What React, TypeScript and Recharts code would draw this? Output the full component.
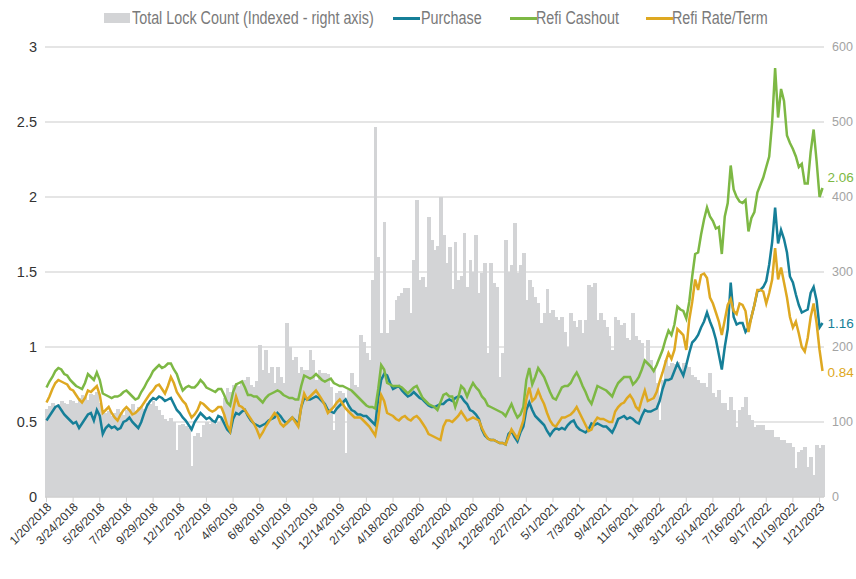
import React from "react";
import {
  ComposedChart,
  Bar,
  Line,
  XAxis,
  YAxis,
  CartesianGrid,
  Legend,
} from "recharts";

// weekly lock data, 1/20/2018 .. 1/28/2023
const START_DATE = new Date(2018, 0, 20);
const WEEKS = 263;

const TICK_LABELS = [
  "1/20/2018", "3/24/2018", "5/26/2018", "7/28/2018", "9/29/2018", "12/1/2018",
  "2/2/2019", "4/6/2019", "6/8/2019", "8/10/2019", "10/12/2019", "12/14/2019",
  "2/15/2020", "4/18/2020", "6/20/2020", "8/22/2020", "10/24/2020", "12/26/2020",
  "2/27/2021", "5/1/2021", "7/3/2021", "9/4/2021", "11/6/2021", "1/8/2022",
  "3/12/2022", "5/14/2022", "7/16/2022", "9/17/2022", "11/19/2022", "1/21/2023",
];

const LEFT_TICKS = [0, 0.5, 1, 1.5, 2, 2.5, 3];
const RIGHT_TICKS = [0, 100, 200, 300, 400, 500, 600];

// Total Lock Count (indexed, right axis)
const lockCount = [
  118, 122, 125, 120, 124, 128, 126, 124, 130, 128, 126, 132, 136, 134, 130, 138, 136, 140, 126, 116,
  112, 115, 108, 112, 118, 114, 110, 116, 118, 124, 115, 120, 122, 118, 126, 124, 128, 122, 116, 110,
  104, 102, 106, 100, 63, 96, 98, 95, 92, 42, 82, 86, 80, 96, 100, 98, 102, 98, 100, 104,
  132, 145, 140, 150, 152, 148, 155, 156, 160, 150, 147, 155, 203, 169, 196, 165, 173, 152, 173, 160,
  152, 232, 200, 183, 187, 165, 173, 170, 169, 196, 183, 156, 169, 165, 166, 164, 147, 89, 139, 142,
  139, 59, 143, 165, 149, 147, 216, 207, 192, 183, 289, 493, 320, 219, 367, 219, 236, 236, 263, 268,
  272, 279, 279, 245, 316, 396, 289, 293, 280, 373, 343, 329, 335, 400, 350, 312, 333, 278, 340, 290,
  295, 352, 280, 316, 300, 349, 272, 299, 312, 192, 312, 285, 280, 160, 192, 343, 300, 310, 365, 299,
  310, 325, 263, 290, 280, 267, 259, 232, 245, 278, 245, 250, 240, 236, 240, 220, 200, 245, 235, 227,
  236, 219, 236, 283, 280, 285, 236, 245, 236, 227, 215, 196, 240, 236, 230, 232, 212, 209, 245, 215,
  209, 205, 179, 209, 183, 169, 152, 103, 156, 183, 175, 179, 178, 180, 169, 179, 175, 173, 163, 160,
  156, 152, 152, 147, 165, 139, 133, 143, 125, 125, 116, 133, 116, 93, 116, 120, 133, 110, 103, 93,
  96, 96, 96, 89, 90, 89, 80, 80, 76, 76, 72, 72, 67, 39, 60, 63, 67, 40, 53, 29,
  69, 65, 70,
];

const purchase = [
  0.51, 0.54, 0.57, 0.60, 0.61, 0.58, 0.55, 0.53, 0.51, 0.49, 0.50, 0.46, 0.49, 0.52, 0.55, 0.56, 0.51, 0.58, 0.54, 0.42,
  0.46, 0.48, 0.46, 0.47, 0.45, 0.46, 0.50, 0.51, 0.53, 0.50, 0.48, 0.46, 0.50, 0.56, 0.61, 0.64, 0.66, 0.65, 0.67, 0.66,
  0.64, 0.65, 0.66, 0.62, 0.58, 0.56, 0.53, 0.51, 0.48, 0.45, 0.50, 0.53, 0.56, 0.54, 0.52, 0.53, 0.51, 0.50, 0.54, 0.53,
  0.49, 0.45, 0.43, 0.52, 0.56, 0.55, 0.57, 0.58, 0.54, 0.51, 0.49, 0.48, 0.47, 0.48, 0.49, 0.51, 0.52, 0.53, 0.56, 0.54,
  0.51, 0.49, 0.51, 0.53, 0.51, 0.48, 0.60, 0.66, 0.65, 0.65, 0.66, 0.67, 0.66, 0.64, 0.62, 0.58, 0.57, 0.56, 0.59, 0.61,
  0.63, 0.65, 0.61, 0.58, 0.57, 0.55, 0.55, 0.54, 0.54, 0.52, 0.50, 0.48, 0.66, 0.78, 0.82, 0.81, 0.76, 0.72, 0.73, 0.74,
  0.71, 0.69, 0.67, 0.68, 0.70, 0.68, 0.66, 0.65, 0.63, 0.61, 0.60, 0.60, 0.61, 0.62, 0.62, 0.64, 0.65, 0.64, 0.66, 0.67,
  0.67, 0.64, 0.62, 0.58, 0.57, 0.55, 0.52, 0.45, 0.41, 0.39, 0.38, 0.38, 0.37, 0.36, 0.36, 0.35, 0.42, 0.44, 0.40, 0.37,
  0.43, 0.47, 0.58, 0.63, 0.58, 0.54, 0.52, 0.50, 0.48, 0.44, 0.41, 0.44, 0.46, 0.45, 0.46, 0.45, 0.48, 0.50, 0.51, 0.47,
  0.45, 0.44, 0.43, 0.45, 0.49, 0.48, 0.49, 0.48, 0.47, 0.47, 0.45, 0.43, 0.47, 0.52, 0.53, 0.54, 0.52, 0.53, 0.52, 0.50,
  0.49, 0.54, 0.58, 0.57, 0.57, 0.58, 0.59, 0.64, 0.72, 0.78, 0.78, 0.79, 0.84, 0.89, 0.85, 0.81, 0.88, 0.96, 1.03, 1.05,
  1.08, 1.13, 1.17, 1.23, 1.17, 1.12, 1.05, 0.95, 0.85, 1.00, 1.12, 1.43, 1.20, 1.15, 1.16, 1.16, 1.10, 1.13, 1.20, 1.28,
  1.37, 1.38, 1.40, 1.44, 1.55, 1.70, 1.93, 1.69, 1.78, 1.72, 1.63, 1.47, 1.43, 1.35, 1.28, 1.23, 1.24, 1.25, 1.36, 1.40,
  1.31, 1.13, 1.16,
];

const refiCashout = [
  0.73, 0.77, 0.80, 0.84, 0.86, 0.85, 0.82, 0.81, 0.78, 0.76, 0.74, 0.73, 0.72, 0.76, 0.82, 0.80, 0.78, 0.83, 0.78, 0.69,
  0.68, 0.67, 0.66, 0.67, 0.67, 0.68, 0.70, 0.71, 0.69, 0.67, 0.65, 0.66, 0.70, 0.73, 0.77, 0.80, 0.84, 0.86, 0.88, 0.86,
  0.87, 0.89, 0.89, 0.85, 0.82, 0.76, 0.71, 0.73, 0.74, 0.73, 0.73, 0.75, 0.78, 0.76, 0.73, 0.72, 0.71, 0.70, 0.72, 0.72,
  0.68, 0.63, 0.61, 0.70, 0.75, 0.76, 0.77, 0.73, 0.68, 0.68, 0.67, 0.67, 0.65, 0.63, 0.66, 0.68, 0.69, 0.70, 0.71, 0.70,
  0.68, 0.67, 0.66, 0.66, 0.65, 0.65, 0.74, 0.81, 0.80, 0.79, 0.80, 0.82, 0.80, 0.78, 0.77, 0.78, 0.79, 0.76, 0.75, 0.74,
  0.74, 0.73, 0.72, 0.71, 0.69, 0.67, 0.65, 0.63, 0.61, 0.60, 0.60, 0.59, 0.72, 0.88, 0.85, 0.76, 0.75, 0.74, 0.74, 0.74,
  0.73, 0.71, 0.69, 0.71, 0.73, 0.74, 0.70, 0.66, 0.64, 0.62, 0.61, 0.60, 0.58, 0.63, 0.68, 0.69, 0.67, 0.67, 0.60, 0.66,
  0.74, 0.72, 0.67, 0.72, 0.76, 0.73, 0.71, 0.67, 0.65, 0.61, 0.60, 0.59, 0.58, 0.57, 0.56, 0.54, 0.58, 0.62, 0.57, 0.53,
  0.55, 0.60, 0.78, 0.86, 0.75, 0.80, 0.86, 0.83, 0.80, 0.75, 0.70, 0.66, 0.65, 0.69, 0.73, 0.74, 0.74, 0.76, 0.80, 0.83,
  0.79, 0.74, 0.70, 0.65, 0.62, 0.68, 0.74, 0.73, 0.72, 0.71, 0.69, 0.67, 0.72, 0.76, 0.78, 0.80, 0.80, 0.80, 0.75, 0.77,
  0.80, 0.85, 0.91, 0.89, 0.87, 0.84, 0.88, 0.93, 0.98, 1.05, 1.11, 1.08, 1.15, 1.27, 1.25, 1.24, 1.19, 1.30, 1.47, 1.62,
  1.63, 1.75, 1.85, 1.93, 1.87, 1.84, 1.79, 1.80, 1.62, 1.87, 1.96, 2.21, 2.05, 2.00, 1.97, 1.96, 1.98, 1.77, 1.86, 1.90,
  2.03, 2.08, 2.13, 2.20, 2.27, 2.50, 2.86, 2.53, 2.72, 2.64, 2.41, 2.36, 2.32, 2.27, 2.20, 2.22, 2.09, 2.09, 2.30, 2.45,
  2.24, 2.00, 2.06,
];

const refiRateTerm = [
  0.63, 0.67, 0.72, 0.76, 0.78, 0.77, 0.76, 0.75, 0.72, 0.71, 0.68, 0.65, 0.63, 0.66, 0.71, 0.70, 0.72, 0.74, 0.68, 0.56,
  0.58, 0.60, 0.56, 0.53, 0.51, 0.55, 0.58, 0.60, 0.58, 0.55, 0.56, 0.58, 0.60, 0.63, 0.66, 0.69, 0.71, 0.74, 0.75, 0.72,
  0.69, 0.74, 0.80, 0.76, 0.70, 0.67, 0.64, 0.62, 0.57, 0.53, 0.55, 0.58, 0.63, 0.62, 0.60, 0.58, 0.57, 0.58, 0.60, 0.60,
  0.55, 0.48, 0.44, 0.58, 0.67, 0.61, 0.60, 0.58, 0.55, 0.52, 0.49, 0.45, 0.40, 0.43, 0.47, 0.50, 0.53, 0.56, 0.54, 0.49,
  0.47, 0.49, 0.51, 0.53, 0.50, 0.47, 0.60, 0.69, 0.65, 0.67, 0.69, 0.71, 0.68, 0.65, 0.61, 0.56, 0.58, 0.60, 0.63, 0.65,
  0.62, 0.59, 0.57, 0.55, 0.53, 0.53, 0.53, 0.51, 0.49, 0.47, 0.44, 0.41, 0.52, 0.68, 0.64, 0.56, 0.55, 0.54, 0.52, 0.51,
  0.53, 0.54, 0.52, 0.51, 0.53, 0.54, 0.52, 0.49, 0.46, 0.42, 0.41, 0.40, 0.39, 0.38, 0.47, 0.51, 0.51, 0.50, 0.52, 0.54,
  0.57, 0.54, 0.51, 0.52, 0.53, 0.52, 0.51, 0.46, 0.42, 0.39, 0.38, 0.38, 0.37, 0.36, 0.36, 0.35, 0.40, 0.45, 0.42, 0.39,
  0.45, 0.51, 0.65, 0.73, 0.64, 0.66, 0.71, 0.66, 0.62, 0.56, 0.51, 0.48, 0.47, 0.50, 0.53, 0.53, 0.54, 0.55, 0.57, 0.60,
  0.56, 0.52, 0.48, 0.44, 0.45, 0.50, 0.53, 0.52, 0.52, 0.51, 0.50, 0.50, 0.57, 0.60, 0.62, 0.63, 0.66, 0.68, 0.65, 0.60,
  0.58, 0.65, 0.71, 0.64, 0.65, 0.66, 0.70, 0.77, 0.83, 0.90, 0.96, 0.92, 0.98, 1.12, 1.10, 1.08, 0.98, 1.18, 1.30, 1.45,
  1.38, 1.48, 1.49, 1.46, 1.33, 1.29, 1.23, 1.17, 1.08, 1.18, 1.28, 1.32, 1.24, 1.22, 1.29, 1.28, 1.24, 1.10, 1.20, 1.28,
  1.38, 1.38, 1.37, 1.29, 1.36, 1.45, 1.66, 1.45, 1.53, 1.43, 1.33, 1.20, 1.13, 1.17, 1.09, 1.00, 0.97, 1.06, 1.20, 1.29,
  1.16, 0.98, 0.84,
];

const SERIES = [
  { key: "purchase", name: "Purchase", color: "#167f98", values: purchase, dy: 0 },
  { key: "refiCashout", name: "Refi Cashout", color: "#7db844", values: refiCashout, dy: -11 },
  { key: "refiRateTerm", name: "Refi Rate/Term", color: "#dea821", values: refiRateTerm, dy: 1 },
];

const BAR_COLOR = "#d3d4d6";
const FONT = '"Liberation Sans", Arial, sans-serif';

function fmtDate(d: Date) {
  return `${d.getMonth() + 1}/${d.getDate()}/${d.getFullYear()}`;
}

const dates: string[] = [];
for (let i = 0; i < WEEKS; i++) {
  const d = new Date(START_DATE);
  d.setDate(d.getDate() + i * 7);
  dates.push(fmtDate(d));
}

const data = dates.map((date, i) => ({
  date,
  lock: lockCount[i],
  purchase: purchase[i],
  refiCashout: refiCashout[i],
  refiRateTerm: refiRateTerm[i],
}));

const LAST = WEEKS - 1;

function DateTick(props: any) {
  const { x, y, payload } = props;
  return (
    <g transform={`translate(${x},${y})`}>
      <text
        x={0}
        y={0}
        dy={8}
        textAnchor="end"
        transform="rotate(-45)"
        fill="#333"
        fontSize={12}
        fontFamily={FONT}
      >
        {payload.value}
      </text>
    </g>
  );
}

// bars are drawn edge to edge like an area, so widen each one a little
function LockBar(props: any) {
  const { x, y, width, height } = props;
  if (!height || height <= 0) return <g />;
  return (
    <rect
      x={x}
      y={y}
      width={width + 0.7}
      height={height}
      fill={BAR_COLOR}
      shapeRendering="crispEdges"
    />
  );
}

// legend text in the source is a tall condensed face, squeeze it a bit
function LegendContent() {
  const text = {
    position: "absolute" as const,
    top: 4,
    lineHeight: "22px",
    fontSize: 17.5,
    color: "#7a7a7a",
    fontFamily: FONT,
    whiteSpace: "nowrap" as const,
    transform: "scaleX(0.82)",
    transformOrigin: "left center",
  };
  return (
    <div style={{ position: "relative", width: 856, height: 30 }}>
      <div style={{ position: "absolute", left: 104, top: 10, width: 26, height: 10, background: BAR_COLOR }} />
      <span style={{ ...text, left: 132 }}>Total Lock Count (Indexed - right axis)</span>
      {[
        { s: SERIES[0], line: 393, label: 421 },
        { s: SERIES[1], line: 510, label: 536 },
        { s: SERIES[2], line: 646, label: 672 },
      ].map(({ s, line, label }) => (
        <React.Fragment key={s.key}>
          <div style={{ position: "absolute", left: line, top: 14, width: 27, height: 3, background: s.color }} />
          <span style={{ ...text, left: label }}>{s.name}</span>
        </React.Fragment>
      ))}
    </div>
  );
}

export default function App() {
  return (
    <div style={{ position: "absolute", left: 0, top: 0, width: 856, height: 579, background: "#fff" }}>
      <ComposedChart
        width={856}
        height={579}
        data={data}
        margin={{ top: 17, right: 0, bottom: 0, left: 0 }}
        barCategoryGap={0}
        barGap={0}
      >
        <Legend verticalAlign="top" content={<LegendContent />} wrapperStyle={{ top: 3, left: 0 }} />
        <CartesianGrid yAxisId="left" vertical={false} stroke="#dcdcdc" strokeWidth={1.5} />
        <XAxis
          dataKey="date"
          ticks={TICK_LABELS}
          interval={0}
          height={82}
          tick={<DateTick />}
          tickSize={5}
          tickMargin={0}
          axisLine={{ stroke: "#cfcfcf" }}
          tickLine={{ stroke: "#cfcfcf" }}
        />
        <YAxis
          yAxisId="left"
          domain={[0, 3]}
          ticks={LEFT_TICKS}
          width={45}
          axisLine={false}
          tickLine={false}
          tick={{ fill: "#333", fontSize: 14.5, fontFamily: FONT }}
        />
        <YAxis
          yAxisId="right"
          orientation="right"
          domain={[0, 600]}
          ticks={RIGHT_TICKS}
          width={32}
          axisLine={false}
          tickLine={false}
          tick={{ fill: "#a3a3a3", fontSize: 12.5, fontFamily: FONT }}
        />
        <Bar
          yAxisId="right"
          dataKey="lock"
          name="Total Lock Count (Indexed - right axis)"
          fill={BAR_COLOR}
          shape={<LockBar />}
          isAnimationActive={false}
        />
        {SERIES.map((s) => (
          <Line
            key={s.key}
            yAxisId="left"
            type="linear"
            dataKey={s.key}
            name={s.name}
            stroke={s.color}
            strokeWidth={2.5}
            dot={false}
            isAnimationActive={false}
            label={(p: any) =>
              p.index === LAST ? (
                <text
                  key={`lbl-${s.key}`}
                  x={p.x + 5}
                  y={p.y + s.dy}
                  dy={5}
                  fill={s.color}
                  fontSize={13.5}
                  fontFamily={FONT}
                >
                  {s.values[LAST].toFixed(2)}
                </text>
              ) : (
                <g key={`lbl-${s.key}-${p.index}`} />
              )
            }
          />
        ))}
      </ComposedChart>
    </div>
  );
}
